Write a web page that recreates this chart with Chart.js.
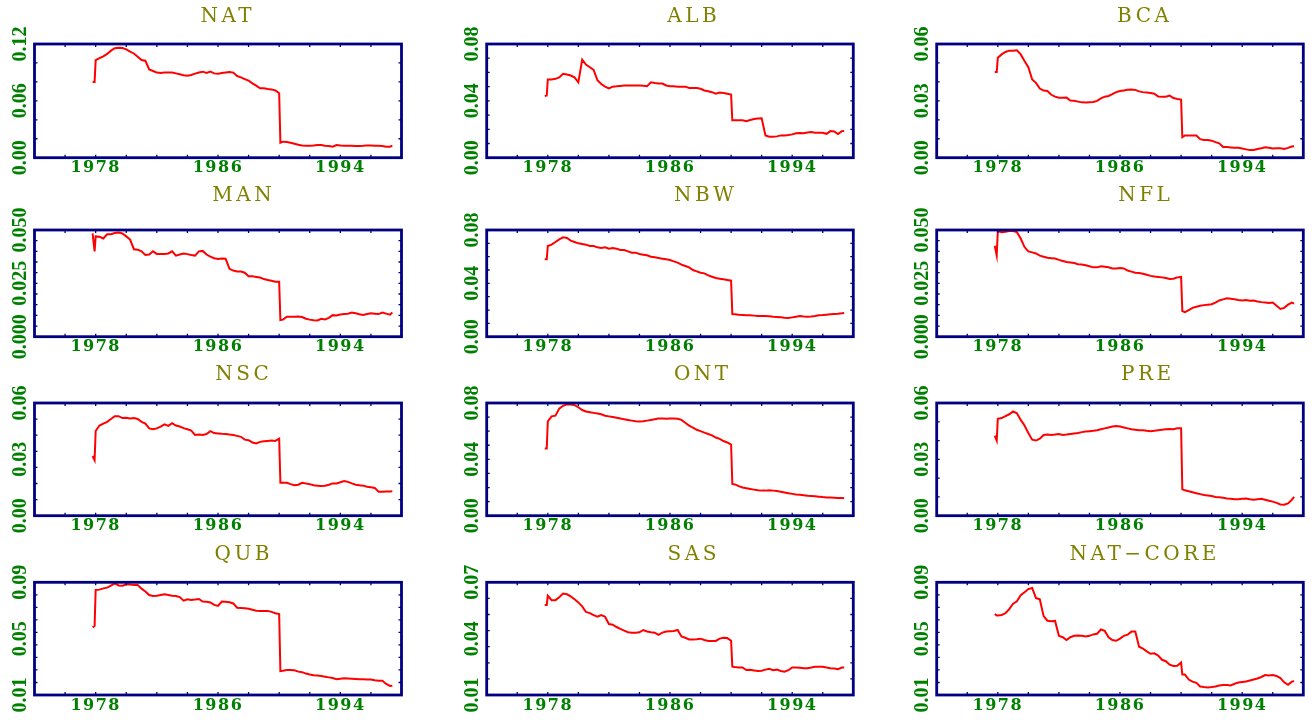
<!DOCTYPE html>
<html><head><meta charset="utf-8">
<script src="https://cdn.jsdelivr.net/npm/chart.js@4.4.1/dist/chart.umd.min.js"></script>
<style>
html,body{margin:0;padding:0;background:#fff;overflow:hidden;width:1313px;height:721px;position:relative;}
canvas{position:absolute;}
</style></head><body>
<script>
// ---------- DATA ----------
const years = [1977.8, 1977.93, 1978,
 1978.25, 1978.5, 1978.75,
 1979, 1979.25, 1979.5, 1979.75,
 1980, 1980.25, 1980.5, 1980.75,
 1981, 1981.25, 1981.5, 1981.75,
 1982, 1982.25, 1982.5, 1982.75,
 1983, 1983.25, 1983.5, 1983.75,
 1984, 1984.25, 1984.5, 1984.75,
 1985, 1985.25, 1985.5, 1985.75,
 1986, 1986.25, 1986.5, 1986.75,
 1987, 1987.25, 1987.5, 1987.75,
 1988, 1988.25, 1988.5, 1988.75,
 1989, 1989.25, 1989.5, 1989.75,
 1990, 1990.08,
 1990.25, 1990.5, 1990.75,
 1991, 1991.25, 1991.5, 1991.75,
 1992, 1992.25, 1992.5, 1992.75,
 1993, 1993.25, 1993.5, 1993.75,
 1994, 1994.25, 1994.5, 1994.75,
 1995, 1995.25, 1995.5, 1995.75,
 1996, 1996.25, 1996.5, 1996.75,
 1997, 1997.25, 1997.4];

const nat = [0.080, 0.080, 0.103,
 0.105, 0.107, 0.1095,
 0.113, 0.1155, 0.116, 0.1158,
 0.1144, 0.112, 0.110, 0.1066,
 0.103, 0.1024, 0.0932, 0.0915,
 0.0898, 0.0894, 0.0898, 0.0898,
 0.090, 0.089, 0.088, 0.087,
 0.0866, 0.0873, 0.0887, 0.090,
 0.0908, 0.0894, 0.0908, 0.089,
 0.0887, 0.0894, 0.090, 0.0904,
 0.0898, 0.0862, 0.0848, 0.083,
 0.0813, 0.0785, 0.076, 0.0732,
 0.0732, 0.0725, 0.0721, 0.071,
 0.068, 0.0158,
 0.0169, 0.0165, 0.0158,
 0.0148, 0.0137, 0.013, 0.0127,
 0.0127, 0.013, 0.0134, 0.0134,
 0.0127, 0.0123, 0.0116, 0.0134,
 0.013, 0.0127, 0.0127, 0.0127,
 0.0123, 0.0123, 0.0125, 0.013,
 0.013, 0.0127, 0.0127, 0.0123,
 0.0116, 0.0116, 0.0127];

const alb = [0.0433, 0.0437, 0.055,
 0.055, 0.0555, 0.0565,
 0.059, 0.0585, 0.0578, 0.0565,
 0.053, 0.069, 0.0655, 0.0636,
 0.0617, 0.0545, 0.0518, 0.050,
 0.0488, 0.050, 0.0502, 0.0505,
 0.0508, 0.0508, 0.0508, 0.0508,
 0.0508, 0.0506, 0.0503, 0.053,
 0.0525, 0.0522, 0.0522, 0.0508,
 0.0503, 0.0502, 0.050, 0.050,
 0.050, 0.0491, 0.0491, 0.049,
 0.0485, 0.0473, 0.0468, 0.0461,
 0.0451, 0.0458, 0.0455, 0.045,
 0.0444, 0.0264,
 0.0264, 0.0264, 0.0264,
 0.0257, 0.0265, 0.0272, 0.0276,
 0.0278, 0.0157, 0.0147, 0.0147,
 0.015, 0.0157, 0.0157, 0.016,
 0.0164, 0.0172, 0.0173, 0.0172,
 0.0178, 0.018, 0.0175, 0.0175,
 0.0175, 0.0168, 0.0187, 0.0185,
 0.0166, 0.0187, 0.0188];

const bca = [0.0452, 0.0452, 0.0527,
 0.0545, 0.0558, 0.0565,
 0.0565, 0.0567, 0.0545, 0.051,
 0.0478, 0.0413, 0.0395, 0.0365,
 0.0354, 0.0352, 0.0332, 0.0322,
 0.0316, 0.0316, 0.0317, 0.0302,
 0.030, 0.0296, 0.0292, 0.0291,
 0.0293, 0.0294, 0.030, 0.0313,
 0.0322, 0.0326, 0.0335, 0.0346,
 0.0352, 0.0355, 0.0358, 0.036,
 0.0358, 0.035, 0.0346, 0.0344,
 0.0341, 0.0338, 0.0323, 0.0321,
 0.0322, 0.0328, 0.0315, 0.031,
 0.0307, 0.0108,
 0.0117, 0.0117, 0.0117,
 0.0117, 0.0098, 0.0094, 0.0093,
 0.009, 0.0082, 0.0076, 0.0057,
 0.0056, 0.0054, 0.0052, 0.0052,
 0.0048, 0.0044, 0.004, 0.0041,
 0.0046, 0.005, 0.0055, 0.0052,
 0.0048, 0.005, 0.005, 0.0046,
 0.0052, 0.0059, 0.0061];

const man = [0.0484, 0.040, 0.047,
 0.0468, 0.046, 0.048,
 0.048, 0.0486, 0.0488, 0.0484,
 0.047, 0.0455, 0.041, 0.0408,
 0.040, 0.0383, 0.0385, 0.040,
 0.0388, 0.0388, 0.0388, 0.039,
 0.040, 0.038, 0.0385, 0.039,
 0.0387, 0.0383, 0.038, 0.040,
 0.0402, 0.0385, 0.0375, 0.0368,
 0.0364, 0.0366, 0.0365, 0.0318,
 0.031, 0.0306, 0.0305, 0.030,
 0.0283, 0.0283, 0.028, 0.0277,
 0.027, 0.0266, 0.0262, 0.0258,
 0.0258, 0.0078,
 0.008, 0.0094, 0.0094,
 0.0094, 0.0095, 0.0092, 0.0084,
 0.008, 0.0077, 0.0076, 0.0084,
 0.0081, 0.0088, 0.0101, 0.0099,
 0.0104, 0.0106, 0.0108, 0.0113,
 0.011, 0.0105, 0.0102, 0.0106,
 0.011, 0.0108, 0.0106, 0.0113,
 0.0108, 0.0103, 0.0113];

const nbw = [0.058, 0.058, 0.068,
 0.069, 0.071, 0.073,
 0.0745, 0.074, 0.072, 0.071,
 0.070, 0.0695, 0.069, 0.068,
 0.068, 0.067, 0.0665, 0.067,
 0.066, 0.0665, 0.066, 0.065,
 0.065, 0.064, 0.063, 0.063,
 0.062, 0.0615, 0.061, 0.060,
 0.0595, 0.059, 0.0585, 0.058,
 0.0575, 0.0565, 0.0555, 0.054,
 0.053, 0.052, 0.050, 0.049,
 0.048, 0.0475, 0.046, 0.045,
 0.044, 0.0435, 0.043, 0.0425,
 0.042, 0.017,
 0.0168, 0.0165, 0.0163,
 0.016, 0.016, 0.0158, 0.0156,
 0.0156, 0.0155, 0.0154, 0.015,
 0.0148, 0.0145, 0.0142, 0.014,
 0.0145, 0.015, 0.0155, 0.0152,
 0.015, 0.0152, 0.0155, 0.016,
 0.0162, 0.0165, 0.0168, 0.017,
 0.0172, 0.0175, 0.0178];

const nfl = [0.0426, 0.038, 0.0495,
 0.049, 0.0492, 0.0495,
 0.0495, 0.049, 0.046, 0.042,
 0.040, 0.0395, 0.039, 0.038,
 0.0375, 0.037, 0.0368, 0.0366,
 0.036, 0.0355, 0.035, 0.0348,
 0.0345, 0.034, 0.0338, 0.0335,
 0.033, 0.0325, 0.0325, 0.033,
 0.0328, 0.0325, 0.032, 0.032,
 0.0322, 0.032, 0.031, 0.0305,
 0.030, 0.0298, 0.0295, 0.029,
 0.0285, 0.0282, 0.028, 0.0278,
 0.0275, 0.027, 0.0272, 0.0278,
 0.028, 0.012,
 0.0115, 0.0125, 0.0135,
 0.014, 0.0145, 0.0148, 0.015,
 0.0152, 0.016, 0.017, 0.0175,
 0.018, 0.0178, 0.0175, 0.0172,
 0.017, 0.0172, 0.0168, 0.017,
 0.0165, 0.0162, 0.016, 0.0158,
 0.016, 0.0145, 0.013, 0.0135,
 0.015, 0.016, 0.0155];

const nsc = [0.0318, 0.0296, 0.0451,
 0.048, 0.049, 0.050,
 0.0515, 0.053, 0.053, 0.052,
 0.0522, 0.0518, 0.052, 0.0515,
 0.050, 0.049, 0.0465, 0.046,
 0.0465, 0.0474, 0.0486, 0.0478,
 0.0493, 0.048, 0.0475, 0.0466,
 0.046, 0.0453, 0.043, 0.0432,
 0.043, 0.0435, 0.045, 0.044,
 0.0438, 0.0436, 0.0435, 0.0432,
 0.043, 0.0425, 0.042, 0.0405,
 0.0402, 0.039, 0.0385, 0.0393,
 0.0396, 0.0398, 0.040, 0.0398,
 0.041, 0.0176,
 0.0176, 0.0175, 0.0168,
 0.0162, 0.0165, 0.0175, 0.0172,
 0.0168, 0.0162, 0.016, 0.0158,
 0.016, 0.0165, 0.0172, 0.0172,
 0.0178, 0.0185, 0.018, 0.0172,
 0.0165, 0.0162, 0.016, 0.0154,
 0.0151, 0.0148, 0.0128, 0.0128,
 0.0129, 0.0129, 0.013];

const ont = [0.0477, 0.0477, 0.067,
 0.0705, 0.071, 0.076,
 0.078, 0.079, 0.079, 0.0785,
 0.077, 0.075, 0.074, 0.0735,
 0.073, 0.0725, 0.072, 0.071,
 0.0705, 0.070, 0.0695, 0.069,
 0.0685, 0.068, 0.0675, 0.067,
 0.0668, 0.067, 0.0675, 0.068,
 0.0685, 0.069, 0.069, 0.0688,
 0.069, 0.069, 0.0688, 0.068,
 0.066, 0.064, 0.0625, 0.061,
 0.060, 0.059, 0.058, 0.057,
 0.0555, 0.0545, 0.053, 0.052,
 0.0505, 0.0225,
 0.0222, 0.021, 0.020,
 0.0195, 0.019, 0.0185, 0.018,
 0.0178, 0.0178, 0.018, 0.0178,
 0.0175, 0.017, 0.0165, 0.016,
 0.0155, 0.015, 0.0148, 0.0145,
 0.0142, 0.014, 0.0138, 0.0135,
 0.0132, 0.013, 0.013, 0.0128,
 0.0126, 0.0125, 0.0124];

const pre = [0.0426, 0.040, 0.0516,
 0.052, 0.053, 0.054,
 0.0555, 0.0545, 0.051, 0.048,
 0.044, 0.0405, 0.040, 0.041,
 0.043, 0.0432, 0.043, 0.0432,
 0.0435, 0.043, 0.0432, 0.0435,
 0.0438, 0.044, 0.0445, 0.0448,
 0.045, 0.0452, 0.0455, 0.046,
 0.0465, 0.047, 0.0475, 0.0478,
 0.0475, 0.047, 0.0465, 0.046,
 0.0458, 0.0455, 0.0455, 0.0452,
 0.045, 0.0452, 0.0455, 0.0458,
 0.046, 0.0462, 0.046, 0.0465,
 0.0465, 0.014,
 0.0135, 0.013, 0.0125,
 0.012, 0.0115, 0.011, 0.0108,
 0.0105, 0.010, 0.0098, 0.0095,
 0.0092, 0.009, 0.0088, 0.0088,
 0.009, 0.0092, 0.0088, 0.0085,
 0.0088, 0.009, 0.0085, 0.008,
 0.0075, 0.0068, 0.006, 0.0058,
 0.0065, 0.0085, 0.010];

const qub = [0.058, 0.059, 0.0846,
 0.0848, 0.0857, 0.0862,
 0.0876, 0.0893, 0.0878, 0.0876,
 0.0886, 0.0884, 0.088, 0.088,
 0.0855, 0.0835, 0.081, 0.0803,
 0.0805, 0.081, 0.0815, 0.081,
 0.0805, 0.0803, 0.0795, 0.077,
 0.078, 0.0775, 0.0778, 0.0782,
 0.0763, 0.0762, 0.0757, 0.074,
 0.0732, 0.0763, 0.0762, 0.0758,
 0.075, 0.072, 0.0718, 0.0716,
 0.0712, 0.0705, 0.0698, 0.0697,
 0.0697, 0.0697, 0.069, 0.068,
 0.0675, 0.027,
 0.0272, 0.0277, 0.0277,
 0.0275, 0.0266, 0.0262, 0.0252,
 0.0245, 0.024, 0.0238, 0.0235,
 0.023, 0.0225, 0.022, 0.0212,
 0.0215, 0.0218, 0.0217, 0.0216,
 0.0214, 0.0212, 0.0211, 0.021,
 0.021, 0.0204, 0.0202, 0.0201,
 0.0178, 0.0164, 0.0166];

const sas = [0.0579, 0.0579, 0.0629,
 0.0605, 0.0605, 0.062,
 0.064, 0.0636, 0.0625, 0.061,
 0.0593, 0.0572, 0.0542, 0.0536,
 0.0525, 0.0517, 0.0526, 0.0517,
 0.0478, 0.0474, 0.0462, 0.0452,
 0.0443, 0.0434, 0.0432, 0.0432,
 0.0434, 0.0446, 0.0438, 0.0434,
 0.0432, 0.042, 0.0432, 0.0438,
 0.044, 0.0441, 0.0446, 0.0412,
 0.0405, 0.0396, 0.0396, 0.0397,
 0.040, 0.0393, 0.0388, 0.0388,
 0.0388, 0.040, 0.0405, 0.0403,
 0.0389, 0.0251,
 0.0249, 0.0247, 0.0247,
 0.0233, 0.0234, 0.0231, 0.0228,
 0.0229, 0.0235, 0.024, 0.0232,
 0.0235, 0.0228, 0.0224, 0.0232,
 0.0247, 0.0247, 0.0245, 0.0243,
 0.0243, 0.0246, 0.025, 0.0251,
 0.025, 0.0246, 0.0243, 0.0241,
 0.0237, 0.0246, 0.0247];

const natCore = [0.0675, 0.0665, 0.0665,
 0.0668, 0.068, 0.071,
 0.0748, 0.0765, 0.0808, 0.083,
 0.0852, 0.086, 0.0788, 0.078,
 0.066, 0.0627, 0.0623, 0.0626,
 0.052, 0.051, 0.049, 0.051,
 0.052, 0.0523, 0.052, 0.0515,
 0.052, 0.053, 0.0535, 0.0565,
 0.0555, 0.051, 0.049, 0.0485,
 0.050, 0.052, 0.0528, 0.055,
 0.055, 0.0443, 0.043, 0.041,
 0.0393, 0.0396, 0.038, 0.035,
 0.034, 0.0315, 0.0306, 0.0307,
 0.033, 0.0245,
 0.0245, 0.021, 0.0195,
 0.0186, 0.016, 0.0156, 0.0154,
 0.0156, 0.016, 0.0168, 0.0171,
 0.0171, 0.0168, 0.018, 0.0188,
 0.0192, 0.0196, 0.0203, 0.021,
 0.0217, 0.0228, 0.0242, 0.0238,
 0.0242, 0.0235, 0.022, 0.019,
 0.0172, 0.0195, 0.0198];

// tick labels and axis ranges
const xTicks = [1978, 1986, 1994];
const xRange = [1974, 1998];
const natTicks = ['0.00', '0.06', '0.12'];    const natRange = [0, 0.12];
const albTicks = ['0.00', '0.04', '0.08'];    const albRange = [0, 0.08];
const bcaTicks = ['0.00', '0.03', '0.06'];    const bcaRange = [0, 0.06];
const manTicks = ['0.000', '0.025', '0.050']; const manRange = [0, 0.05];
const nbwTicks = ['0.00', '0.04', '0.08'];    const nbwRange = [0, 0.08];
const nflTicks = ['0.000', '0.025', '0.050']; const nflRange = [0, 0.05];
const nscTicks = ['0.00', '0.03', '0.06'];    const nscRange = [0, 0.06];
const ontTicks = ['0.00', '0.04', '0.08'];    const ontRange = [0, 0.08];
const preTicks = ['0.00', '0.03', '0.06'];    const preRange = [0, 0.06];
const qubTicks = ['0.01', '0.05', '0.09'];    const qubRange = [0.01, 0.09];
const sasTicks = ['0.01', '0.04', '0.07'];    const sasRange = [0.01, 0.07];
const coreTicks = ['0.01', '0.05', '0.09'];   const coreRange = [0.01, 0.09];
const titles = ['NAT', 'ALB', 'BCA', 'MAN', 'NBW', 'NFL', 'NSC', 'ONT', 'PRE', 'QUB', 'SAS', 'NAT\u2212CORE'];

// ---------- LAYOUT / STYLE ----------
const cols = [
  {x0: 0,   w: 440, L: 34.5,  R: 401.5},
  {x0: 440, w: 440, L: 486.7, R: 853.3},
  {x0: 880, w: 433, L: 936.7, R: 1303.3}
];
const rows = [
  {y0: 0,   h: 180, T: 44,    B: 157.7},
  {y0: 180, h: 180, T: 230,   B: 336.7},
  {y0: 360, h: 180, T: 403,   B: 515.7},
  {y0: 540, h: 181, T: 582.3, B: 695}
];
const panels = [
  {series: nat, labels: natTicks, range: natRange, minor: 6,  tx: 226,  ty: 15.5},
  {series: alb, labels: albTicks, range: albRange, minor: 8,  tx: 692,  ty: 16},
  {series: bca, labels: bcaTicks, range: bcaRange, minor: 6,  tx: 1143, ty: 16},
  {series: man, labels: manTicks, range: manRange, minor: 10, tx: 242,  ty: 195},
  {series: nbw, labels: nbwTicks, range: nbwRange, minor: 8,  tx: 704,  ty: 195},
  {series: nfl, labels: nflTicks, range: nflRange, minor: 10, tx: 1144, ty: 195},
  {series: nsc, labels: nscTicks, range: nscRange, minor: 7,  tx: 242,  ty: 373.5},
  {series: ont, labels: ontTicks, range: ontRange, minor: 8,  tx: 701,  ty: 373.5},
  {series: pre, labels: preTicks, range: preRange, minor: 6,  tx: 1146, ty: 373.5},
  {series: qub, labels: qubTicks, range: qubRange, minor: 9,  tx: 242,  ty: 553.5},
  {series: sas, labels: sasTicks, range: sasRange, minor: 7,  tx: 692,  ty: 553.5},
  {series: natCore, labels: coreTicks, range: coreRange, minor: 9, tx: 1143, ty: 553.5}
];

const GREEN = '#008000', NAVY = '#000080', OLIVE = '#808000';
const yFont = {family: 'Liberation Serif', size: 20, weight: 'bold'};
const xFont = {family: 'DejaVu Serif', size: 16, weight: 'bold'};
const LABEL_OFF = 14; // distance of y label centre from plot left

const measCtx = document.createElement('canvas').getContext('2d');
measCtx.font = 'bold 20px "Liberation Serif"';
function widest(arr) { return Math.max(...arr.map(s => measCtx.measureText(s).width)); }

const xSpacing = {
  id: 'xSpacing',
  afterLayout(chart) {
    const sx = chart.scales.x;
    if (!sx._spPatched) {
      const orig = sx.drawLabels.bind(sx);
      sx.drawLabels = function (area) {
        const c = chart.ctx; c.save(); c.letterSpacing = '1.5px'; orig(area); c.restore();
      };
      sx._spPatched = true;
    }
  }
};
const frame = {
  id: 'frame',
  afterDraw(chart, args, o) {
    const {ctx, chartArea: a} = chart;
    const xs = chart.scales.x, ys = chart.scales.y;
    ctx.save();
    ctx.strokeStyle = NAVY;
    ctx.lineWidth = 1.3;
    ctx.beginPath();
    for (let v = xs.min; v <= xs.max + 1e-6; v += o.xStep) {
      const px = xs.getPixelForValue(v);
      ctx.moveTo(px, a.top); ctx.lineTo(px, a.top + o.len);
      ctx.moveTo(px, a.bottom); ctx.lineTo(px, a.bottom - o.len);
    }
    for (let k = 0; k <= o.ySteps; k++) {
      const py = ys.getPixelForValue(ys.min + (ys.max - ys.min) * k / o.ySteps);
      ctx.moveTo(a.left, py); ctx.lineTo(a.left + o.len, py);
      ctx.moveTo(a.right, py); ctx.lineTo(a.right - o.len, py);
    }
    ctx.stroke();
    ctx.lineWidth = 2.8;
    ctx.strokeRect(a.left, a.top, a.right - a.left, a.bottom - a.top);
    ctx.restore();
  }
};
const ptitle = {
  id: 'ptitle',
  afterDraw(chart, args, o) {
    const ctx = chart.ctx;
    ctx.save();
    ctx.font = o.fontStr; ctx.fillStyle = o.color;
    ctx.letterSpacing = o.spacing + 'px';
    ctx.textAlign = 'center'; ctx.textBaseline = 'middle';
    ctx.fillText(o.text, o.x + o.spacing / 2, o.y);
    ctx.restore();
  }
};

panels.forEach((p, i) => {
  const col = cols[i % 3], row = rows[Math.floor(i / 3)];
  const cv = document.createElement('canvas');
  cv.width = col.w; cv.height = row.h;
  cv.style.left = col.x0 + 'px'; cv.style.top = row.y0 + 'px';
  cv.style.width = col.w + 'px'; cv.style.height = row.h + 'px';
  document.body.appendChild(cv);
  const axisW = col.L - col.x0;
  const padR = col.x0 + col.w - col.R;
  const padT = row.T - row.y0;
  const xAxisH = 20;
  const padB = row.y0 + row.h - row.B - xAxisH;
  const [ymin, ymax] = p.range;
  const yPad = LABEL_OFF - widest(p.labels) / 2;

  new Chart(cv, {
    type: 'line',
    data: {
      datasets: [{
        data: years.map((x, k) => ({x, y: p.series[k]})),
        borderColor: '#ff0000', borderWidth: 2, pointRadius: 0, tension: 0, fill: false
      }]
    },
    options: {
      responsive: false, animation: false, devicePixelRatio: 1,
      events: [],
      layout: {autoPadding: false, padding: {left: 0, top: padT, right: padR, bottom: padB}},
      plugins: {
        legend: {display: false}, title: {display: false}, tooltip: {enabled: false},
        frame: {xStep: 2, ySteps: p.minor, len: 3},
        ptitle: {text: titles[i], x: p.tx - col.x0, y: p.ty - row.y0 + 1,
                 fontStr: '20px "DejaVu Serif"', color: OLIVE, spacing: 3.5}
      },
      scales: {
        x: {
          type: 'linear', min: xRange[0], max: xRange[1],
          afterBuildTicks: s => { s.ticks = xTicks.map(v => ({value: v})); },
          afterFit: s => { s.height = xAxisH; },
          grid: {display: false, drawTicks: false}, border: {display: false},
          ticks: {color: GREEN, font: xFont, padding: 1, autoSkip: false,
                  minRotation: 0, maxRotation: 0, callback: (v, k) => String(xTicks[k])}
        },
        y: {
          type: 'linear', min: ymin, max: ymax,
          afterBuildTicks: s => { s.ticks = [{value: ymin}, {value: (ymin + ymax) / 2}, {value: ymax}]; },
          afterFit: s => { s.width = axisW; },
          grid: {display: false, drawTicks: false}, border: {display: false},
          ticks: {color: GREEN, font: yFont, padding: yPad, autoSkip: false,
                  minRotation: 90, maxRotation: 90, crossAlign: 'center',
                  callback: (v, k) => p.labels[k]}
        }
      }
    },
    plugins: [xSpacing, frame, ptitle]
  });
});
</script>
</body></html>
